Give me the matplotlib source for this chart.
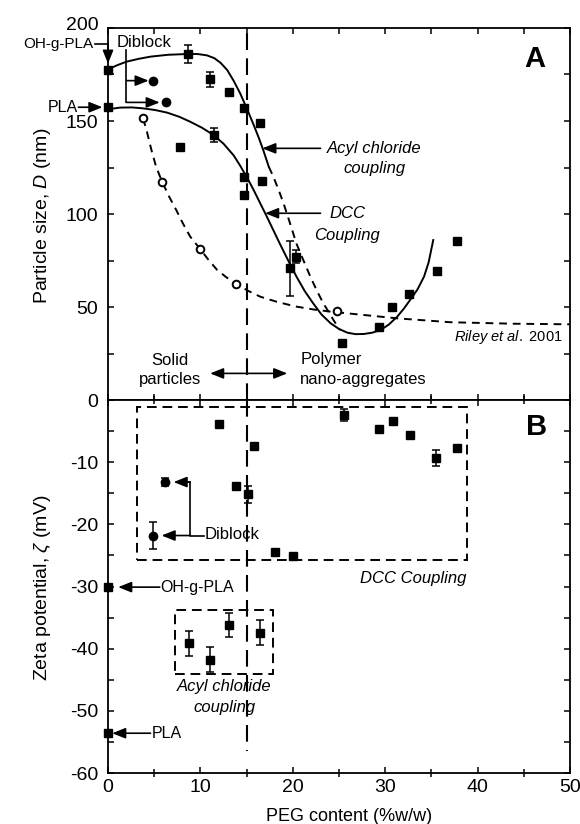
import matplotlib
matplotlib.use('Agg')
import matplotlib.pyplot as plt
from matplotlib.ticker import MultipleLocator, FixedLocator
from matplotlib.patches import Rectangle
from matplotlib.transforms import ScaledTranslation

plt.rcParams['font.family'] = ['Liberation Sans', 'DejaVu Sans']
plt.rcParams['mathtext.fontset'] = 'custom'
plt.rcParams['mathtext.it'] = 'Liberation Sans:italic'
plt.rcParams['mathtext.rm'] = 'Liberation Sans'
plt.rcParams['axes.unicode_minus'] = False

# ---------------- Panel A: particle size ----------------
sq_x_a = [0, 0, 7.8, 8.7, 11.0, 11.5, 13.1, 14.7, 14.7, 14.7, 16.4, 16.65,
          19.7, 20.4, 25.3, 29.3, 30.7, 32.6, 35.6, 37.8]
sq_y_a = [177.4, 157.4, 135.8, 186.0, 172.4, 142.5, 165.8, 157.2, 120.0, 110.4,
          148.7, 118.0, 70.8, 77.0, 30.5, 39.4, 49.8, 57.0, 69.4, 85.6]
sq_err_a = [0, 0, 0, 4.7, 4.2, 3.8, 0, 0, 0, 0, 0, 0,
            14.8, 3.5, 0, 0, 0, 0, 0, 0]

diblock_x_a = [4.9, 6.3]
diblock_y_a = [171.7, 160.0]

riley_pts_x = [3.8, 5.8, 10.0, 13.9, 24.8]
riley_pts_y = [151.4, 117.0, 81.0, 62.4, 48.0]

# fitted curves
acyl_fit_x = [0, 1, 2, 3.3, 4.6, 6.5, 8.5, 9.7, 10.7, 11.5, 12.2, 12.9, 13.6,
              14.3, 15.0, 15.7, 16.3, 16.8, 17.4]
acyl_fit_y = [177.8, 180.0, 181.9, 183.4, 184.6, 185.6, 186.0, 186.0, 185.3, 183.8,
              181.2, 177.4, 171.6, 164.9, 157.0, 148.7, 141.2, 134.4, 125.4]

acyl_ext_x = [17.4, 17.9, 18.5, 19.0, 19.7, 20.4, 21.2, 21.9, 22.6, 23.3, 23.9, 24.4, 25.1]
acyl_ext_y = [125.4, 120.0, 112.5, 105.7, 95.0, 84.0, 74.5, 66.3, 58.8, 52.0, 47.2, 43.0, 37.6]

dcc_fit_x = [0, 1.3, 2.6, 3.8, 5.1, 6.4, 7.7, 8.9, 10.2, 11.4, 12.5, 13.6, 14.3,
             15.0, 15.7, 16.4, 17.1, 18.6, 19.5, 20.4, 21.3, 22.2, 23.1, 24.1,
             25.0, 25.9, 26.8, 27.7, 28.6, 29.5, 30.4, 31.3, 32.0, 32.7, 33.5,
             34.2, 34.7, 35.2]
dcc_fit_y = [156.3, 157.2, 157.3, 156.8, 155.9, 154.5, 152.3, 149.6, 146.3, 142.5,
             137.8, 131.5, 126.0, 120.0, 113.5, 106.5, 99.5, 84.0, 75.0, 66.3,
             58.5, 52.0, 46.0, 41.2, 38.2, 36.2, 35.4, 35.5, 36.2, 37.6, 40.6,
             44.8, 49.0, 53.8, 59.5, 66.3, 74.0, 86.0]

riley_fit_x = [3.8, 4.2, 4.7, 5.2, 5.8, 6.6, 7.4, 8.1, 8.9, 10.0, 10.9, 11.8,
               12.8, 13.9, 15.2, 16.5, 18.4, 20.4, 22.2, 24.1, 27.7, 31.3,
               37.1, 44.0, 50.0]
riley_fit_y = [151.4, 144.5, 134.4, 125.5, 118.0, 109.5, 102.0, 95.0, 87.8, 81.0,
               75.2, 70.0, 66.0, 62.4, 58.6, 55.5, 52.6, 50.2, 48.7, 47.5, 45.7,
               43.9, 41.8, 41.0, 40.7]

# ---------------- Panel B: zeta potential ----------------
dcc_x_b = [12.06, 13.9, 15.2, 15.85, 18.1, 20.0, 25.5, 29.3, 30.8, 32.7, 35.5, 37.8]
dcc_y_b = [-3.9, -13.9, -15.2, -7.4, -24.5, -25.1, -2.4, -4.6, -3.4, -5.7, -9.3, -7.7]
dcc_err_b = [0, 0, 1.4, 0, 0, 0, 1.0, 0, 0, 0, 1.3, 0]

acyl_x_b = [8.8, 11.05, 13.1, 16.5]
acyl_y_b = [-39.1, -41.8, -36.2, -37.4]
acyl_err_b = [2.0, 2.0, 2.0, 2.0]

diblock_x_b = [4.9, 6.2]
diblock_y_b = [-21.8, -13.2]
diblock_err_b = [2.1, 0.7]

pla_b = -53.6
ohg_b = -30.1

# ---------------- figure ----------------
fig = plt.figure(figsize=(5.8, 8.24), dpi=100)
axA = fig.add_axes([0.18621, 0.51456, 0.79655, 0.45146])
axB = fig.add_axes([0.18621, 0.06189, 0.79655, 0.45267])

LW = 1.3
ARROW = dict(arrowstyle='-|>,head_length=0.8,head_width=0.32', lw=1.2, color='k',
             shrinkA=0, shrinkB=0)

def arrow(ax, x0, y0, x1, y1, style=None):
    props = dict(ARROW)
    if style:
        props['arrowstyle'] = style
    ax.annotate('', xy=(x1, y1), xytext=(x0, y0), arrowprops=props,
                annotation_clip=False)

for ax in (axA, axB):
    ax.set_xlim(0, 50)
    for s in ax.spines.values():
        s.set_linewidth(LW)
    ax.xaxis.set_major_locator(MultipleLocator(10))
    ax.xaxis.set_minor_locator(MultipleLocator(5))
    ax.tick_params(which='both', direction='in', top=True, right=True,
                   length=4.5, width=1.1, labelsize=14)
    ax.tick_params(axis='y', which='both', pad=7)

# ---- Panel A ----
axA.set_ylim(0, 200)
axA.yaxis.set_major_locator(FixedLocator([0, 50, 100, 150, 200]))
axA.yaxis.set_minor_locator(MultipleLocator(25))
axA.tick_params(axis='x', labelbottom=False)
# the "200" label sits a little above the top edge, as in the original
top_tick = axA.yaxis.get_major_ticks()[-1]
top_tick.label1.set_transform(top_tick.label1.get_transform() +
                              ScaledTranslation(0, 3 / 72, fig.dpi_scale_trans))

axA.plot([15, 15], [0, 200], color='k', lw=1.5, dashes=(8, 4))
axA.plot(acyl_fit_x, acyl_fit_y, color='k', lw=1.4)
axA.plot(acyl_ext_x, acyl_ext_y, color='k', lw=1.4, dashes=(4, 3))
axA.plot(dcc_fit_x, dcc_fit_y, color='k', lw=1.4)
axA.plot(riley_fit_x, riley_fit_y, color='k', lw=1.4, dashes=(4, 3))

axA.errorbar(sq_x_a, sq_y_a, yerr=sq_err_a, fmt='s', color='k', ms=6,
             capsize=3, elinewidth=1.1, capthick=1.1, clip_on=False, zorder=5)
axA.plot(diblock_x_a, diblock_y_a, 'o', color='k', ms=6, zorder=5)
axA.plot(riley_pts_x, riley_pts_y, 'o', mfc='white', mec='k', mew=1.4, ms=5.5, zorder=5)

# annotations A
axA.text(-1.6, 191.2, 'OH-g-PLA', ha='right', va='center', fontsize=11)
axA.plot([-1.45, 0], [191.2, 191.2], color='k', lw=1.2, clip_on=False)
arrow(axA, 0, 191.2, 0, 180.8)
axA.text(-3.3, 157.4, 'PLA', ha='right', va='center', fontsize=11.5)
arrow(axA, -3.2, 157.4, -0.6, 157.4)

axA.text(0.95, 192.3, 'Diblock', ha='left', va='center', fontsize=12)
axA.plot([2.0, 2.0], [188.2, 160.0], color='k', lw=1.2)
arrow(axA, 2.0, 171.7, 4.4, 171.7)
arrow(axA, 2.0, 160.0, 5.6, 160.0)

axA.text(28.8, 135.3, 'Acyl chloride', ha='center', va='center', fontsize=12, style='italic')
axA.text(28.8, 124.6, 'coupling', ha='center', va='center', fontsize=12, style='italic')
arrow(axA, 23.0, 135.3, 16.7, 135.3)

axA.text(25.9, 100.4, 'DCC', ha='center', va='center', fontsize=12, style='italic')
axA.text(25.9, 88.7, 'Coupling', ha='center', va='center', fontsize=12, style='italic')
arrow(axA, 23.0, 100.4, 17.0, 100.4)

axA.text(49.2, 34.0, r'$Riley\ et\ al.$ 2001', ha='right', va='center', fontsize=10.5)

axA.text(6.7, 21.1, 'Solid', ha='center', va='center', fontsize=12)
axA.text(6.7, 10.8, 'particles', ha='center', va='center', fontsize=12)
arrow(axA, 11.05, 14.3, 19.4, 14.3, style='<|-|>,head_length=0.8,head_width=0.32')
axA.text(20.8, 21.9, 'Polymer', ha='left', va='center', fontsize=12)
axA.text(20.8, 10.8, 'nano-aggregates', ha='left', va='center', fontsize=12)

axA.text(46.2, 183.5, 'A', ha='center', va='center', fontsize=21, fontweight='bold')

# ---- Panel B ----
axB.set_ylim(-60, 0)
axB.set_yticks([-60, -50, -40, -30, -20, -10])
axB.yaxis.set_minor_locator(MultipleLocator(5))
axB.tick_params(axis='x', which='minor', direction='inout', length=6)
axB.tick_params(axis='x', which='major', pad=4)

axB.plot([15, 15], [0, -56.5], color='k', lw=1.5, dashes=(8, 4))
axB.add_patch(Rectangle((3.1, -25.8), 38.9 - 3.1, 25.8 - 1.1, fill=False,
                        ec='k', lw=1.4, ls=(0, (5, 3))))
axB.add_patch(Rectangle((7.3, -44.0), 17.9 - 7.3, 44.0 - 33.8, fill=False,
                        ec='k', lw=1.4, ls=(0, (5, 3))))

axB.errorbar(dcc_x_b, dcc_y_b, yerr=dcc_err_b, fmt='s', color='k', ms=6,
             capsize=3, elinewidth=1.1, capthick=1.1, zorder=5)
axB.errorbar(acyl_x_b, acyl_y_b, yerr=acyl_err_b, fmt='s', color='k', ms=6,
             capsize=3, elinewidth=1.1, capthick=1.1, zorder=5)
axB.errorbar(diblock_x_b, diblock_y_b, yerr=diblock_err_b, fmt='o', color='k', ms=6,
             capsize=3, elinewidth=1.1, capthick=1.1, zorder=5)
axB.plot([0, 0], [ohg_b, pla_b], 's', color='k', ms=6, clip_on=False, zorder=6)

axB.text(5.65, ohg_b, 'OH-g-PLA', ha='left', va='center', fontsize=11.5)
arrow(axB, 5.6, ohg_b, 1.1, ohg_b)
axB.text(4.7, pla_b, 'PLA', ha='left', va='center', fontsize=11.5)
arrow(axB, 4.6, pla_b, 0.45, pla_b)

axB.text(10.5, -21.6, 'Diblock', ha='left', va='center', fontsize=12)
axB.plot([10.4, 8.9, 8.9, 7.5], [-21.8, -21.8, -13.2, -13.2], color='k', lw=1.2)
arrow(axB, 8.9, -21.8, 5.8, -21.8)
arrow(axB, 8.9, -13.2, 7.1, -13.2)

axB.text(38.8, -28.7, 'DCC Coupling', ha='right', va='center', fontsize=12, style='italic')
axB.text(12.6, -46.05, 'Acyl chloride', ha='center', va='center', fontsize=12, style='italic')
axB.text(12.6, -49.4, 'coupling', ha='center', va='center', fontsize=12, style='italic')

axB.text(46.4, -4.4, 'B', ha='center', va='center', fontsize=21, fontweight='bold')

# axis labels
fig.text(42.5 / 580, 1 - 216 / 824, r'Particle size, $D$ (nm)', rotation=90,
         ha='center', va='center', fontsize=14)
fig.text(42.5 / 580, 1 - 588 / 824, r'Zeta potential, $\zeta$ (mV)', rotation=90,
         ha='center', va='center', fontsize=14)
fig.text(349 / 580, 1 - 816.7 / 824, 'PEG content (%w/w)', ha='center', va='center',
         fontsize=13)

fig.savefig('out.png', dpi=100)
